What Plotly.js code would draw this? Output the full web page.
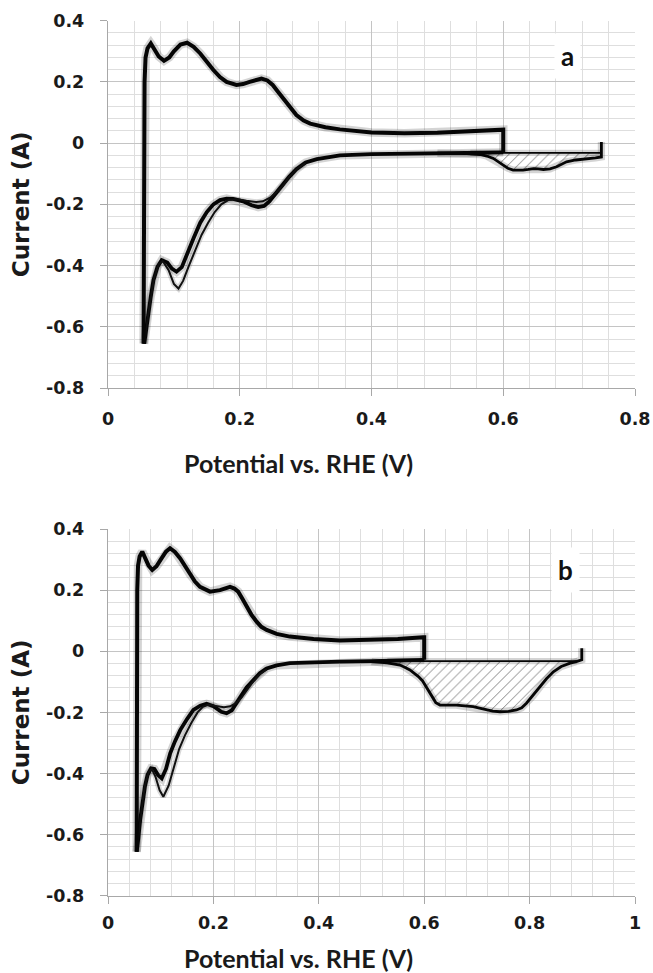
<!DOCTYPE html>
<html>
<head>
<meta charset="utf-8">
<script src="https://cdn.plot.ly/plotly-3.0.1.min.js"></script>
<style>html,body{margin:0;padding:0;background:#fff;}#chart{width:653px;height:973px;}</style>
</head>
<body>
<div id="chart"></div>
<script>
// ---------- Panel a data (potential V, current A) ----------
const aAnodicX = [0.054,0.0545,0.055,0.0555,0.057,0.06,0.065,0.07,0.077,0.085,0.093,0.1,0.11,0.12,0.13,0.14,0.15,0.16,0.17,0.18,0.195,0.205,0.215,0.233,0.242,0.25,0.258,0.266,0.276,0.286,0.297,0.307,0.33,0.352,0.4,0.45,0.5,0.55,0.598,0.6,0.6];
const aAnodicY = [-0.655,-0.3,0.0,0.2,0.28,0.31,0.326,0.31,0.283,0.269,0.28,0.3,0.322,0.328,0.315,0.293,0.265,0.239,0.216,0.2,0.19,0.193,0.2,0.211,0.205,0.19,0.168,0.146,0.118,0.092,0.074,0.064,0.052,0.045,0.035,0.032,0.034,0.038,0.044,0.044,-0.03];
const aCath1X = [0.6,0.55,0.5,0.45,0.4,0.352,0.317,0.3,0.286,0.275,0.266,0.255,0.245,0.237,0.228,0.218,0.205,0.19,0.18,0.17,0.16,0.15,0.14,0.13,0.12,0.112,0.104,0.097,0.09,0.0815,0.075,0.069,0.065,0.061,0.057,0.055];
const aCath1Y = [-0.03,-0.031,-0.033,-0.034,-0.036,-0.04,-0.052,-0.063,-0.085,-0.11,-0.135,-0.165,-0.19,-0.205,-0.209,-0.203,-0.19,-0.182,-0.181,-0.186,-0.2,-0.225,-0.26,-0.31,-0.365,-0.405,-0.42,-0.41,-0.39,-0.382,-0.405,-0.448,-0.5,-0.557,-0.625,-0.655];
const aCath2X = [0.3,0.286,0.275,0.265,0.256,0.246,0.235,0.225,0.21,0.195,0.183,0.172,0.162,0.152,0.142,0.132,0.122,0.114,0.107,0.1,0.092,0.083,0.077,0.07,0.065,0.061,0.057,0.055];
const aCath2Y = [-0.065,-0.085,-0.11,-0.14,-0.16,-0.178,-0.19,-0.192,-0.188,-0.183,-0.185,-0.2,-0.225,-0.26,-0.3,-0.35,-0.405,-0.45,-0.475,-0.46,-0.415,-0.385,-0.395,-0.44,-0.5,-0.56,-0.625,-0.655];
// extended cycle (upper limit 0.75 V), cathodic return
const aExtX = [0.749,0.749,0.74,0.727,0.71,0.696,0.681,0.671,0.661,0.653,0.646,0.638,0.63,0.615,0.607,0.6,0.592,0.585,0.575,0.565,0.545,0.5];
const aExtY = [0.004,-0.045,-0.048,-0.05,-0.055,-0.061,-0.077,-0.084,-0.086,-0.084,-0.083,-0.086,-0.088,-0.088,-0.082,-0.072,-0.06,-0.05,-0.042,-0.037,-0.034,-0.033];
const aBaseX = [0.55,0.749];
const aBaseY = [-0.032,-0.032];

// ---------- Panel b data ----------
const bAnodicX = [0.0544,0.0546,0.055,0.0555,0.057,0.06,0.065,0.07,0.077,0.084,0.092,0.1,0.11,0.1177,0.127,0.137,0.146,0.156,0.165,0.1746,0.1935,0.2125,0.2315,0.24,0.247,0.255,0.263,0.272,0.282,0.291,0.301,0.32,0.345,0.39,0.44,0.5,0.55,0.598,0.6,0.6];
const bAnodicY = [-0.656,-0.3,0.0,0.2,0.28,0.31,0.326,0.308,0.28,0.266,0.278,0.3,0.326,0.337,0.325,0.304,0.278,0.25,0.228,0.211,0.195,0.2,0.211,0.205,0.195,0.172,0.146,0.12,0.097,0.08,0.07,0.057,0.048,0.04,0.035,0.036,0.04,0.046,0.046,-0.028];
const bCath1X = [0.6,0.55,0.5,0.44,0.39,0.345,0.32,0.301,0.288,0.276,0.263,0.253,0.244,0.235,0.225,0.215,0.2,0.187,0.175,0.162,0.15,0.137,0.127,0.118,0.11,0.102,0.095,0.088,0.0816,0.075,0.07,0.065,0.061,0.057,0.0544];
const bCath1Y = [-0.028,-0.031,-0.032,-0.034,-0.036,-0.039,-0.046,-0.056,-0.072,-0.094,-0.118,-0.145,-0.17,-0.193,-0.203,-0.198,-0.18,-0.172,-0.178,-0.192,-0.222,-0.258,-0.295,-0.334,-0.385,-0.416,-0.405,-0.385,-0.383,-0.405,-0.443,-0.5,-0.552,-0.62,-0.656];
const bCath2X = [0.301,0.288,0.276,0.264,0.254,0.244,0.232,0.22,0.205,0.19,0.18,0.17,0.158,0.146,0.135,0.125,0.115,0.105,0.098,0.09,0.083,0.077,0.07,0.065,0.061,0.057,0.0544];
const bCath2Y = [-0.058,-0.075,-0.098,-0.125,-0.15,-0.168,-0.18,-0.183,-0.178,-0.175,-0.182,-0.2,-0.235,-0.275,-0.32,-0.38,-0.44,-0.476,-0.455,-0.41,-0.385,-0.395,-0.44,-0.5,-0.555,-0.62,-0.656];
// extended cycle (upper limit 0.9 V), cathodic return
const bExtX = [0.899,0.899,0.89,0.877,0.86,0.845,0.832,0.82,0.807,0.794,0.785,0.775,0.76,0.744,0.73,0.718,0.705,0.693,0.675,0.661,0.645,0.63,0.622,0.617,0.611,0.605,0.597,0.589,0.58,0.573,0.563,0.554,0.53,0.5];
const bExtY = [0.01,-0.028,-0.033,-0.039,-0.05,-0.067,-0.09,-0.116,-0.145,-0.17,-0.185,-0.192,-0.197,-0.198,-0.196,-0.192,-0.186,-0.181,-0.177,-0.176,-0.176,-0.176,-0.168,-0.154,-0.135,-0.116,-0.097,-0.083,-0.07,-0.061,-0.052,-0.045,-0.038,-0.034];
const bBaseX = [0.53,0.89];
const bBaseY = [-0.032,-0.032];

// ---------- tick labels ----------
const yTickVals = [0.4,0.2,0,-0.2,-0.4,-0.6,-0.8];
const yTickText = ['0.4','0.2','0','-0.2','-0.4','-0.6','-0.8'];
const xTickValsA = [0,0.2,0.4,0.6,0.8];
const xTickTextA = ['0','0.2','0.4','0.6','0.8'];
const xTickValsB = [0,0.2,0.4,0.6,0.8,1];
const xTickTextB = ['0','0.2','0.4','0.6','0.8','1'];
const panelLabels = ['a','b'];
const xTitle = 'Potential vs. RHE (V)';
const yTitle = 'Current (A)';

// hatch polygon: baseline segment + cathodic curve section between the baseline limits
function hatch(extX, extY, baseY, x0, x1){
  const px = [x0, x1], py = [baseY[0], baseY[0]];
  for (let i = 0; i < extX.length; i++){
    if (extX[i] <= x1 && extX[i] >= x0 && extY[i] < baseY[0]){ px.push(extX[i]); py.push(extY[i]); }
  }
  px.push(x0); py.push(baseY[0]);
  return {px, py};
}

function curve(x, y, xa, ya, w){
  return [
    {x, y, xaxis: xa, yaxis: ya, mode: 'lines', line: {color: 'rgba(0,0,0,0.17)', width: w + 4.5}, hoverinfo: 'skip'},
    {x, y, xaxis: xa, yaxis: ya, mode: 'lines', line: {color: '#050505', width: w}}
  ];
}

const traces = [];
function panel(d, xa, ya, h0, h1){
  const hp = hatch(d.ex, d.ey, d.by, h0, h1);
  traces.push({x: hp.px, y: hp.py, xaxis: xa, yaxis: ya, mode: 'lines', fill: 'toself',
    fillcolor: 'rgba(255,255,255,0)', line: {width: 0, color: 'rgba(0,0,0,0)'},
    fillpattern: {shape: '/', fgcolor: '#707070', bgcolor: '#ffffff', size: 7, solidity: 0.12}, hoverinfo: 'skip'});
  traces.push(...curve(d.bx, d.by, xa, ya, 1.8));
  traces.push(...curve(d.ex, d.ey, xa, ya, 2.8));
  traces.push(...curve(d.c1x, d.c1y, xa, ya, 3.8));
  traces.push({x: d.c2x, y: d.c2y, xaxis: xa, yaxis: ya, mode: 'lines', line: {color: 'rgba(0,0,0,0.15)', width: 5.5}});
  traces.push({x: d.c2x, y: d.c2y, xaxis: xa, yaxis: ya, mode: 'lines', line: {color: '#111', width: 2}});
  traces.push(...curve(d.ax, d.ay, xa, ya, 4));
}
panel({ax: aAnodicX, ay: aAnodicY, c1x: aCath1X, c1y: aCath1Y, c2x: aCath2X, c2y: aCath2Y, ex: aExtX, ey: aExtY, bx: aBaseX, by: aBaseY}, 'x', 'y', 0.555, 0.735);
panel({ax: bAnodicX, ay: bAnodicY, c1x: bCath1X, c1y: bCath1Y, c2x: bCath2X, c2y: bCath2Y, ex: bExtX, ey: bExtY, bx: bBaseX, by: bBaseY}, 'x2', 'y2', 0.53, 0.885);

const tickFont = {family: 'DejaVu Sans, sans-serif', size: 17.5, color: '#1a1a1a', weight: 700};
const xTitleFont = {family: 'Lato, sans-serif', size: 25, color: '#1a1a1a', weight: 700};
const yTitleFont = {family: 'DejaVu Sans, sans-serif', size: 23, color: '#1a1a1a', weight: 700};

function xAxis(range, vals, text, anchor, lblOff){
  return {range, anchor, domain: [0, 1], tickmode: 'array', tickvals: vals, ticktext: text,
    showgrid: true, gridcolor: '#c4c4c4', gridwidth: 1,
    minor: {dtick: 0.04, tick0: 0, showgrid: true, gridcolor: '#dedede', gridwidth: 1, ticks: ''},
    zeroline: false, showline: true, linecolor: '#a8a8a8', linewidth: 1.2,
    ticks: 'outside', ticklen: 7, tickcolor: '#a8a8a8', tickfont: tickFont, ticklabelstandoff: lblOff,
    fixedrange: true};
}
function yAxis(domain, anchor){
  return {range: [-0.8, 0.4], anchor, domain, tickmode: 'array', tickvals: yTickVals, ticktext: yTickText,
    showgrid: true, gridcolor: '#c4c4c4', gridwidth: 1,
    minor: {dtick: 0.04, tick0: 0, showgrid: true, gridcolor: '#dedede', gridwidth: 1, ticks: ''},
    zeroline: false, showline: true, linecolor: '#a8a8a8', linewidth: 1.2,
    ticks: 'outside', ticklen: 7, tickcolor: '#a8a8a8', tickfont: tickFont, ticklabelstandoff: 12,
    title: {text: yTitle, font: yTitleFont, standoff: 10}, fixedrange: true};
}

const labelFont = {family: 'Lato, sans-serif', size: 26, color: '#111', weight: 700};
const layout = {
  width: 653, height: 973,
  margin: {l: 108, r: 18, t: 0, b: 0},
  paper_bgcolor: '#ffffff', plot_bgcolor: '#ffffff',
  showlegend: false,
  xaxis: xAxis([0, 0.8], xTickValsA, xTickTextA, 'y', 8),
  yaxis: yAxis([0.6012, 0.9787], 'x'),
  xaxis2: xAxis([0, 1], xTickValsB, xTickTextB, 'y2', 4),
  yaxis2: yAxis([0.0794, 0.4563], 'x2'),
  annotations: [
    {text: panelLabels[0], xref: 'x', yref: 'y', x: 0.697, y: 0.284, showarrow: false,
      font: labelFont, bgcolor: '#ffffff', borderpad: 6},
    {text: panelLabels[1], xref: 'x2', yref: 'y2', x: 0.869, y: 0.266, showarrow: false,
      font: labelFont, bgcolor: '#ffffff', borderpad: 6},
    // x-axis titles (centred on the chart area as in the source figure)
    {text: xTitle, xref: 'paper', yref: 'paper', x: 0.3624, y: 0.5242, xanchor: 'center', yanchor: 'middle',
      showarrow: false, font: xTitleFont},
    {text: xTitle, xref: 'paper', yref: 'paper', x: 0.3624, y: 0.0154, xanchor: 'center', yanchor: 'middle',
      showarrow: false, font: xTitleFont}
  ]
};

Plotly.newPlot('chart', traces, layout, {staticPlot: true, displayModeBar: false});
</script>
</body>
</html>
